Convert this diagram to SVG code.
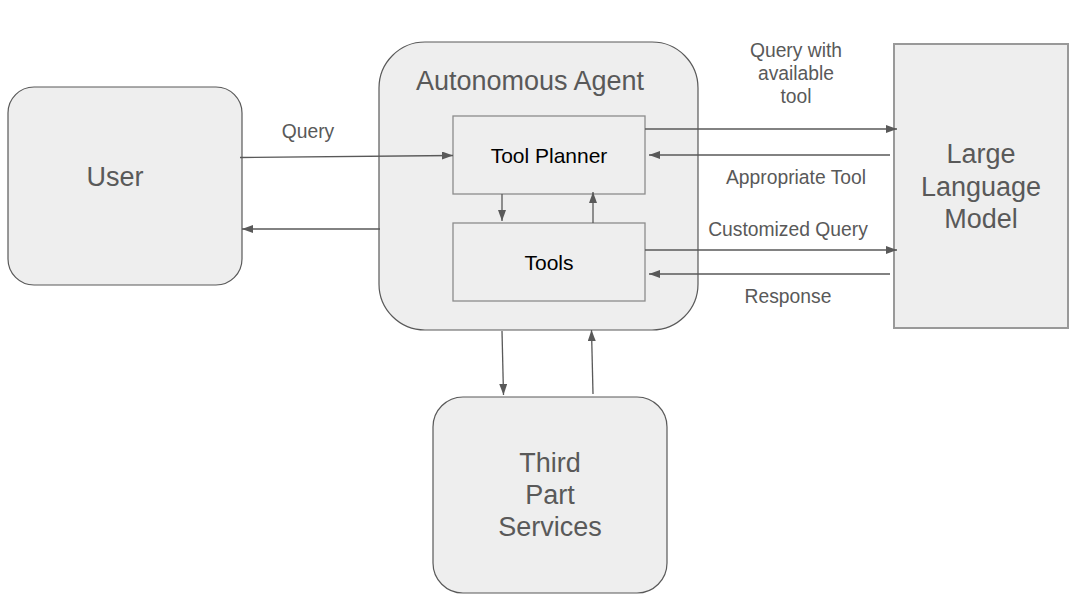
<svg xmlns="http://www.w3.org/2000/svg" width="1080" height="602" viewBox="0 0 1080 602">
<style>
.rbox{fill:#eeeeee;stroke:#595959;stroke-width:1.2}
.ibox{fill:#eeeeee;stroke:#8c8c8c;stroke-width:1.3}
.llm{fill:#eeeeee;stroke:#999999;stroke-width:2}
.big{font-family:"Liberation Sans",Arial,sans-serif;font-size:27px;fill:#595959;text-anchor:middle}
.inner{font-family:"Liberation Sans",Arial,sans-serif;font-size:21px;fill:#000000;text-anchor:middle}
.lbl{font-family:"Liberation Sans",Arial,sans-serif;font-size:19.3px;fill:#595959;text-anchor:middle}
.edge{fill:none;stroke:#595959;stroke-width:1.3;marker-end:url(#ah)}
</style>
<defs>
<marker id="ah" markerUnits="userSpaceOnUse" markerWidth="12" markerHeight="10" refX="11" refY="4" orient="auto">
<path d="M0,0 L11,4 L0,8 Z" fill="#595959"/>
</marker>
</defs>
<rect width="1080" height="602" fill="#ffffff"/>
<g id="user">
<rect class="rbox" x="8" y="87" width="234" height="198" rx="26" ry="26"/>
<text class="big" x="115" y="186">User</text>
</g>
<g id="agent">
<rect class="rbox" x="379" y="42" width="319" height="288" rx="46" ry="46"/>
<text class="big" x="530" y="90">Autonomous Agent</text>
</g>
<g id="tool-planner">
<rect class="ibox" x="453" y="116" width="192" height="78"/>
<text class="inner" x="549" y="163">Tool Planner</text>
</g>
<g id="tools">
<rect class="ibox" x="453" y="223" width="192" height="78"/>
<text class="inner" x="549" y="270">Tools</text>
</g>
<g id="llm">
<rect class="llm" x="894" y="44" width="174" height="284"/>
<text class="big" x="981" y="163">Large</text>
<text class="big" x="981" y="196">Language</text>
<text class="big" x="981" y="228">Model</text>
</g>
<g id="third-part">
<rect class="rbox" x="433" y="397" width="234" height="196" rx="30" ry="30"/>
<text class="big" x="550" y="472">Third</text>
<text class="big" x="550" y="504">Part</text>
<text class="big" x="550" y="536">Services</text>
</g>
<g id="connectors">
<path class="edge" d="M240,157.5 L453,155.5"/>
<path class="edge" d="M380,229 L242,229"/>
<path class="edge" d="M502,194 L502,221"/>
<path class="edge" d="M593,223 L593,192"/>
<path class="edge" d="M645,129 L897,129"/>
<path class="edge" d="M890,155 L649,155"/>
<path class="edge" d="M645,250 L897,250"/>
<path class="edge" d="M890,274 L649,274"/>
<path class="edge" d="M502,331 L503.5,395"/>
<path class="edge" d="M593,394 L591.5,330"/>
</g>
<g id="labels">
<text class="lbl" x="308" y="138">Query</text>
<text class="lbl" x="796" y="57">Query with</text>
<text class="lbl" x="796" y="80">available</text>
<text class="lbl" x="796" y="103">tool</text>
<text class="lbl" x="796" y="184">Appropriate Tool</text>
<text class="lbl" x="788" y="236">Customized Query</text>
<text class="lbl" x="788" y="303">Response</text>
</g>
</svg>
